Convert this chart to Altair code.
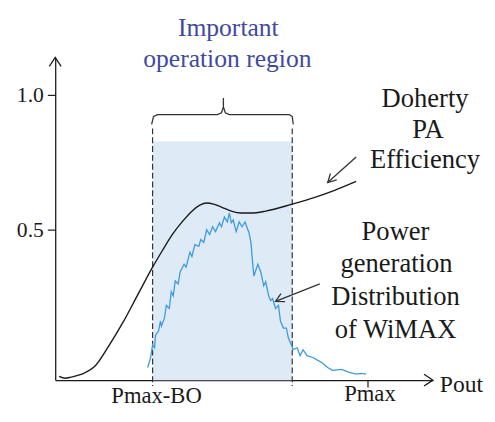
import altair as alt
import pandas as pd

# ---- Doherty PA efficiency curve (Pout in arbitrary units, efficiency 0..1)
eff_pout = [0.4, 1.0, 1.6, 2.7, 4.1, 5.4, 6.9, 8.4, 9.9, 10.9, 11.9, 12.9, 13.9, 14.7,
            15.4, 16.1, 16.9, 17.9, 18.9, 19.9, 21.4, 24.1, 26.4, 28.4, 30.6]
eff_val = [-0.044, -0.051, -0.047, -0.036, -0.004, 0.066, 0.157, 0.259, 0.361, 0.423,
           0.482, 0.529, 0.569, 0.591, 0.599, 0.595, 0.584, 0.569, 0.562, 0.562, 0.569,
           0.595, 0.620, 0.646, 0.679]

# ---- WiMAX power generation distribution
dist_pout = [9.4, 9.7, 9.9, 10.1, 10.2, 10.5, 10.7, 10.8, 11.1, 11.3, 11.6, 11.8, 12.0,
             12.2, 12.5, 12.7, 13.1, 13.3, 13.7, 13.9, 14.2, 14.6, 14.8, 15.1, 15.4, 15.7,
             16.0, 16.3, 16.7, 16.9, 17.2, 17.5, 17.7, 17.9, 18.1, 18.4, 18.7, 19.0, 19.3,
             19.7, 19.9, 20.1, 20.2, 20.6, 20.9, 21.2, 21.4, 21.7, 21.9, 22.1, 22.4, 22.7,
             22.9, 23.2, 23.5, 23.7, 24.0, 24.2, 24.6, 24.9, 25.2, 25.6, 26.2, 27.1, 27.7,
             28.2, 29.1, 29.9, 30.6, 31.1, 31.6]
dist_val = [-0.011, 0.026, 0.073, 0.062, 0.109, 0.124, 0.161, 0.142, 0.172, 0.219, 0.208,
            0.270, 0.255, 0.310, 0.299, 0.343, 0.372, 0.361, 0.416, 0.401, 0.445, 0.438,
            0.464, 0.453, 0.500, 0.482, 0.511, 0.493, 0.526, 0.511, 0.547, 0.529, 0.562,
            0.526, 0.536, 0.493, 0.529, 0.511, 0.529, 0.489, 0.453, 0.365, 0.328, 0.372,
            0.343, 0.292, 0.307, 0.255, 0.237, 0.245, 0.208, 0.219, 0.161, 0.135, 0.135,
            0.099, 0.073, 0.055, 0.062, 0.033, 0.055, 0.033, 0.026, 0.007, -0.011, -0.022,
            -0.018, -0.029, -0.036, -0.033, -0.036]

# ---- region / markers
region_start = 9.9     # Pmax-BO
region_end = 24.1
region_top = 0.828
pmax = 31.8
dash_top = 0.876
dash_bottom = -0.080
pmax_tick_bottom = -0.085

# bracket over the region
brace_x = [9.8, 10.0, 10.4, 16.5, 16.9, 17.1, 17.1, 17.1, 17.3, 17.7, 23.8, 24.1, 24.2]
brace_y = [0.891, 0.920, 0.927, 0.927, 0.934, 0.956, 0.989, 0.956, 0.934, 0.927, 0.927,
           0.920, 0.891]

# annotation arrows (tail -> tip)
arrow_x = [30.6, 26.9]
arrow_y = [0.770, 0.299]
arrow_x2 = [27.7, 22.4]
arrow_y2 = [0.675, 0.234]
arrow_angle = [225, 243]

x_domain = [0, 38.4]
y_domain = [-0.058, 1.139]
y_ticks = [0.5, 1.0]

SERIF = "Liberation Serif"
INK = "#1a1a1a"
BLUE_LINE = "#3d9ade"
FILL = "#deebf7"
TITLE_BLUE = "#3f4a9e"

xs = alt.Scale(domain=x_domain, nice=False, zero=False)
ys = alt.Scale(domain=y_domain, nice=False, zero=False)
x_axis = alt.Axis(ticks=False, labels=False, title=None, grid=False,
                  domainColor=INK, domainWidth=1.3)
y_axis = alt.Axis(values=y_ticks, format=".1f", title=None, grid=False,
                  domainColor=INK, domainWidth=1.3, tickColor=INK, tickSize=8,
                  tickWidth=1.2, labelFont=SERIF, labelFontSize=22, labelColor=INK,
                  labelPadding=4)


def X(f):
    return alt.X(f, type="quantitative", scale=xs, axis=x_axis)


def Y(f):
    return alt.Y(f, type="quantitative", scale=ys, axis=y_axis)


eff_df = pd.DataFrame({"x": eff_pout, "y": eff_val, "i": range(len(eff_pout))})
dist_df = pd.DataFrame({"x": dist_pout, "y": dist_val, "i": range(len(dist_pout))})
brace_df = pd.DataFrame({"x": brace_x, "y": brace_y, "i": range(len(brace_x))})
arrow_df = pd.DataFrame({"x": arrow_x, "y": arrow_y, "x2": arrow_x2, "y2": arrow_y2,
                         "a": arrow_angle})
region_df = pd.DataFrame({"x": [region_start], "x2": [region_end],
                          "y": [region_top], "y2": [y_domain[0]]})
dash_df = pd.DataFrame({"x": [region_start, region_end], "y": [dash_top, dash_top],
                        "y2": [dash_bottom, dash_bottom]})
pmax_df = pd.DataFrame({"x": [pmax], "y": [y_domain[0]], "y2": [pmax_tick_bottom]})
axis_tip_df = pd.DataFrame({"x": [x_domain[0], x_domain[1]],
                            "y": [y_domain[1], y_domain[0]], "a": [0, 90]})

rect = alt.Chart(region_df).mark_rect(color=FILL).encode(
    x=X("x"), x2="x2", y=Y("y"), y2="y2")

dashes = alt.Chart(dash_df).mark_rule(color="#333333", strokeWidth=1.2,
                                      strokeDash=[6, 3]).encode(
    x=X("x"), y=Y("y"), y2="y2")

brace = alt.Chart(brace_df).mark_line(color="#333333", strokeWidth=1.3).encode(
    x=X("x"), y=Y("y"), order="i:Q")

eff = alt.Chart(eff_df).mark_line(color=INK, strokeWidth=1.4, interpolate="monotone").encode(
    x=X("x"), y=Y("y"), order="i:Q")

dist = alt.Chart(dist_df).mark_line(color=BLUE_LINE, strokeWidth=1.3).encode(
    x=X("x"), y=Y("y"), order="i:Q")

arrow_lines = alt.Chart(arrow_df).mark_rule(color="#333333", strokeWidth=1.3).encode(
    x=X("x"), y=Y("y"), x2="x2", y2="y2")

arrow_heads = alt.Chart(arrow_df).mark_point(
    shape="M-0.9,1.7L0,0L0.9,1.7", size=100, filled=False, stroke="#333333",
    strokeWidth=1.3, opacity=1).encode(
    x=X("x2"), y=Y("y2"), angle=alt.Angle("a:Q", scale=None))

axis_tips = alt.Chart(axis_tip_df).mark_point(
    shape="M-1,1.5L0,0L1,1.5", size=144, filled=False, stroke=INK,
    strokeWidth=1.3, opacity=1).encode(
    x=X("x"), y=Y("y"), angle=alt.Angle("a:Q", scale=None))

pmax_tick = alt.Chart(pmax_df).mark_rule(color=INK, strokeWidth=1.2).encode(
    x=X("x"), y=Y("y"), y2="y2")


def label(text, px, py, size, color=INK, align="center"):
    return alt.Chart(alt.Data(values=[{}])).mark_text(
        font=SERIF, fontSize=size, color=color, align=align,
        baseline="alphabetic").encode(
        x=alt.value(px), y=alt.value(py), text=alt.value(text))


texts = [
    label("Important", 176, -22, 26, color=TITLE_BLUE),
    label("operation region", 175, 10, 26, color=TITLE_BLUE),
    label("Doherty", 376, 50, 27),
    label("PA", 379, 82, 27),
    label("Efficiency", 376, 112, 27),
    label("Power", 346, 186, 27),
    label("generation", 347, 218, 27),
    label("Distribution", 346, 252, 27),
    label("of WiMAX", 346, 285, 27),
    label("Pout", 391, 340, 24, align="left"),
    label("Pmax", 320, 349, 23),
    label("Pmax-BO", 103, 351, 23),
]

# svg: 48+384+55 = 487 wide, 47+328+25 = 400 tall, so the page never scrolls
chart = alt.layer(
    rect, dashes, brace, eff, dist, arrow_lines, arrow_heads, axis_tips, pmax_tick,
    *texts
).properties(
    width=384, height=328,
    autosize=alt.AutoSizeParams(type="none"),
    padding={"left": 48, "top": 47, "right": 55, "bottom": 25},
).configure_view(stroke=None)

chart.save("out.html", embed_options={"renderer": "svg", "actions": False})
